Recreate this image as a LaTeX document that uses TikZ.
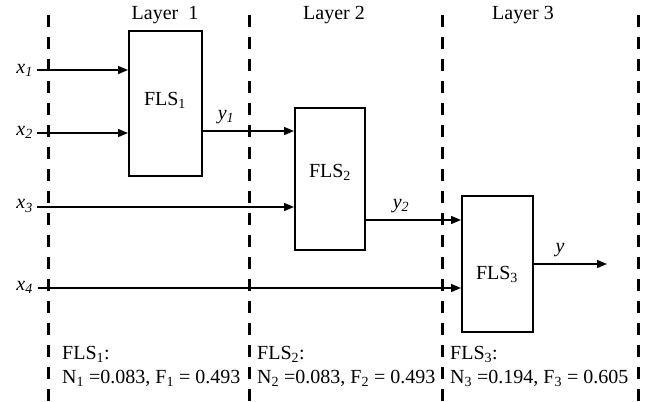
\documentclass[tikz,border=0pt]{standalone}
\usepackage{fontspec}
\setmainfont{Liberation Serif}
\usetikzlibrary{arrows.meta}
\tikzset{
  fbox/.style={draw,line width=2pt,inner sep=0pt},
  lbl/.style={font=\fontsize{20}{22}\selectfont,inner sep=0pt},
  vlbl/.style={font=\fontsize{20}{22}\selectfont\itshape,inner sep=0pt},
  arr/.style={line width=1.4pt,-{Triangle[length=10pt,width=8pt]}},
  sep/.style={line width=3pt,dash pattern=on 12pt off 10pt},
  info/.style={font=\fontsize{20}{24}\selectfont,align=left,anchor=north west,inner sep=0pt}
}
\begin{document}
\begin{tikzpicture}[x=1pt,y=-1pt]
\useasboundingbox (0,0) rectangle (654,402);
% separators
\foreach \n/\x in {s1/48,s2/249,s3/442,s4/638}{
  \coordinate (\n t) at (\x,15);
  \coordinate (\n b) at (\x,402);
  \draw[sep] (\n t) -- (\n b);
}
% layer titles
\node[lbl] (L1) at (165,15) {Layer\ \ 1};
\node[lbl] (L2) at (334,15) {Layer 2};
\node[lbl] (L3) at (523,15) {Layer 3};
% boxes
\node[fbox,minimum width=73pt,minimum height=145pt] (f1) at (165.5,103.5) {};
\node[fbox,minimum width=70pt,minimum height=142pt] (f2) at (330,179) {};
\node[fbox,minimum width=71pt,minimum height=136pt] (f3) at (497.5,264) {};
\node[lbl] (t1) at (165,100) {FLS\textsubscript{1}};
\node[lbl] (t2) at (330,172) {FLS\textsubscript{2}};
\node[lbl] (t3) at (497,274) {FLS\textsubscript{3}};
% inputs
\node[vlbl,anchor=east] (x1) at (33,70) {x\textsubscript{1}};
\node[vlbl,anchor=east] (x2) at (33,132) {x\textsubscript{2}};
\node[vlbl,anchor=east] (x3) at (33,206) {x\textsubscript{3}};
\node[vlbl,anchor=east] (x4) at (33,287) {x\textsubscript{4}};
\coordinate (a1) at (37,70);
\coordinate (a2) at (37,133);
\coordinate (a3) at (37,207);
\coordinate (a4) at (38,288);
\draw[arr] (a1) -- (a1 -| f1.west);
\draw[arr] (a2) -- (a2 -| f1.west);
\draw[arr] (a3) -- (a3 -| f2.west);
\draw[arr] (a4) -- (a4 -| f3.west);
% outputs
\coordinate (o1) at (202,131);
\coordinate (o2) at (365,220);
\coordinate (o3) at (533,264);
\coordinate (oe) at (607,264);
\draw[arr] (o1 -| f1.east) -- (o1 -| f2.west);
\draw[arr] (o2 -| f2.east) -- (o2 -| f3.west);
\draw[arr] (o3 -| f3.east) -- (oe);
\node[vlbl] (y1) at (226,117) {y\textsubscript{1}};
\node[vlbl] (y2) at (401,206) {y\textsubscript{2}};
\node[vlbl] (y) at (560,250) {y};
% info
\node[info] (i1) at (62,346) {FLS\textsubscript{1}:\\N\textsubscript{1} =0.083, F\textsubscript{1} = 0.493};
\node[info] (i2) at (257,346) {FLS\textsubscript{2}:\\N\textsubscript{2} =0.083, F\textsubscript{2} = 0.493};
\node[info] (i3) at (450,346) {FLS\textsubscript{3}:\\N\textsubscript{3} =0.194, F\textsubscript{3} = 0.605};
\end{tikzpicture}
\end{document}
